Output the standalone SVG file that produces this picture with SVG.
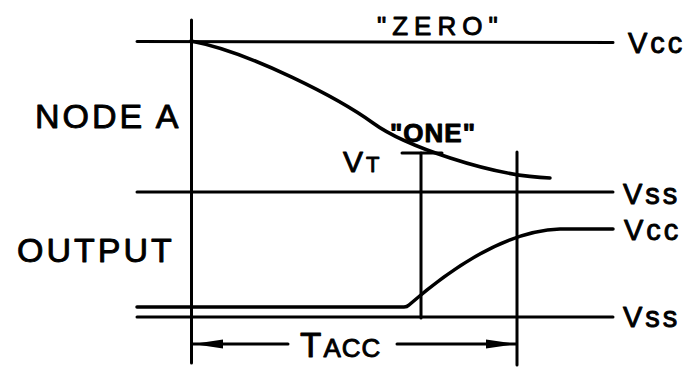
<svg xmlns="http://www.w3.org/2000/svg" width="694" height="375" viewBox="0 0 694 375">
<defs>
<style>
.ln{stroke:#000;stroke-width:3;fill:none;stroke-linecap:round}
.cv{stroke:#000;stroke-width:3.5;fill:none;stroke-linecap:round;stroke-linejoin:round}
.t{font-family:"Liberation Sans",Arial,sans-serif;fill:#000;stroke:#000;stroke-width:0.9;stroke-linejoin:round}
.big{font-size:34px;letter-spacing:3px}
.rail{font-size:29px;letter-spacing:3px}
</style>
<marker id="ah" viewBox="0 0 30 12" refX="30" refY="6" markerWidth="30" markerHeight="12" markerUnits="userSpaceOnUse" orient="auto-start-reverse">
<path d="M0,1.5 L30,6 L0,10.5 Z" fill="#000"/>
</marker>
</defs>
<rect width="694" height="375" fill="#fff"/>

<g id="grid">
<line class="ln" x1="137" y1="41.5" x2="613" y2="42.5"/>
<line class="ln" x1="137" y1="192" x2="613" y2="192"/>
<line class="ln" x1="137" y1="317" x2="613" y2="317"/>
<line class="ln" x1="191.5" y1="20" x2="191.5" y2="363"/>
<line class="ln" x1="421" y1="153" x2="421" y2="318"/>
<line class="ln" x1="517" y1="152" x2="517" y2="365"/>
<line class="ln" x1="402" y1="153" x2="442" y2="153"/>
</g>

<g id="node-a-waveform">
<path class="cv" d="M191,41 C250,52 340,99 373,123 C403,145 490,176 550,178"/>
</g>

<g id="output-waveform">
<path class="cv" d="M137,307 L404,307 Q407,307 409,305 C440,278 500,231 560,229 L613,229"/>
</g>

<g id="connectors">
<line class="ln" x1="288" y1="344" x2="193" y2="344" marker-end="url(#ah)"/>
<line class="ln" x1="397" y1="344" x2="516" y2="344" marker-end="url(#ah)"/>
</g>

<g id="labels">
<text class="t big" x="35" y="128">NODE A</text>
<text class="t big" x="17" y="262">OUTPUT</text>
<text class="t" x="377" y="35" font-size="26" letter-spacing="6">"ZERO"</text>
<text class="t" x="390" y="142" font-size="26" font-weight="bold" letter-spacing="1">"ONE"</text>
<text class="t" x="343" y="172" font-size="30">V<tspan font-size="22" dx="3">T</tspan></text>
<text class="t" x="300" y="357" font-size="35">T<tspan font-size="26" dx="2" letter-spacing="1">ACC</tspan></text>
<text class="t rail" x="628" y="53">Vcc</text>
<text class="t rail" x="623" y="204">Vss</text>
<text class="t rail" x="624" y="240">Vcc</text>
<text class="t rail" x="623" y="327">Vss</text>
</g>
</svg>
